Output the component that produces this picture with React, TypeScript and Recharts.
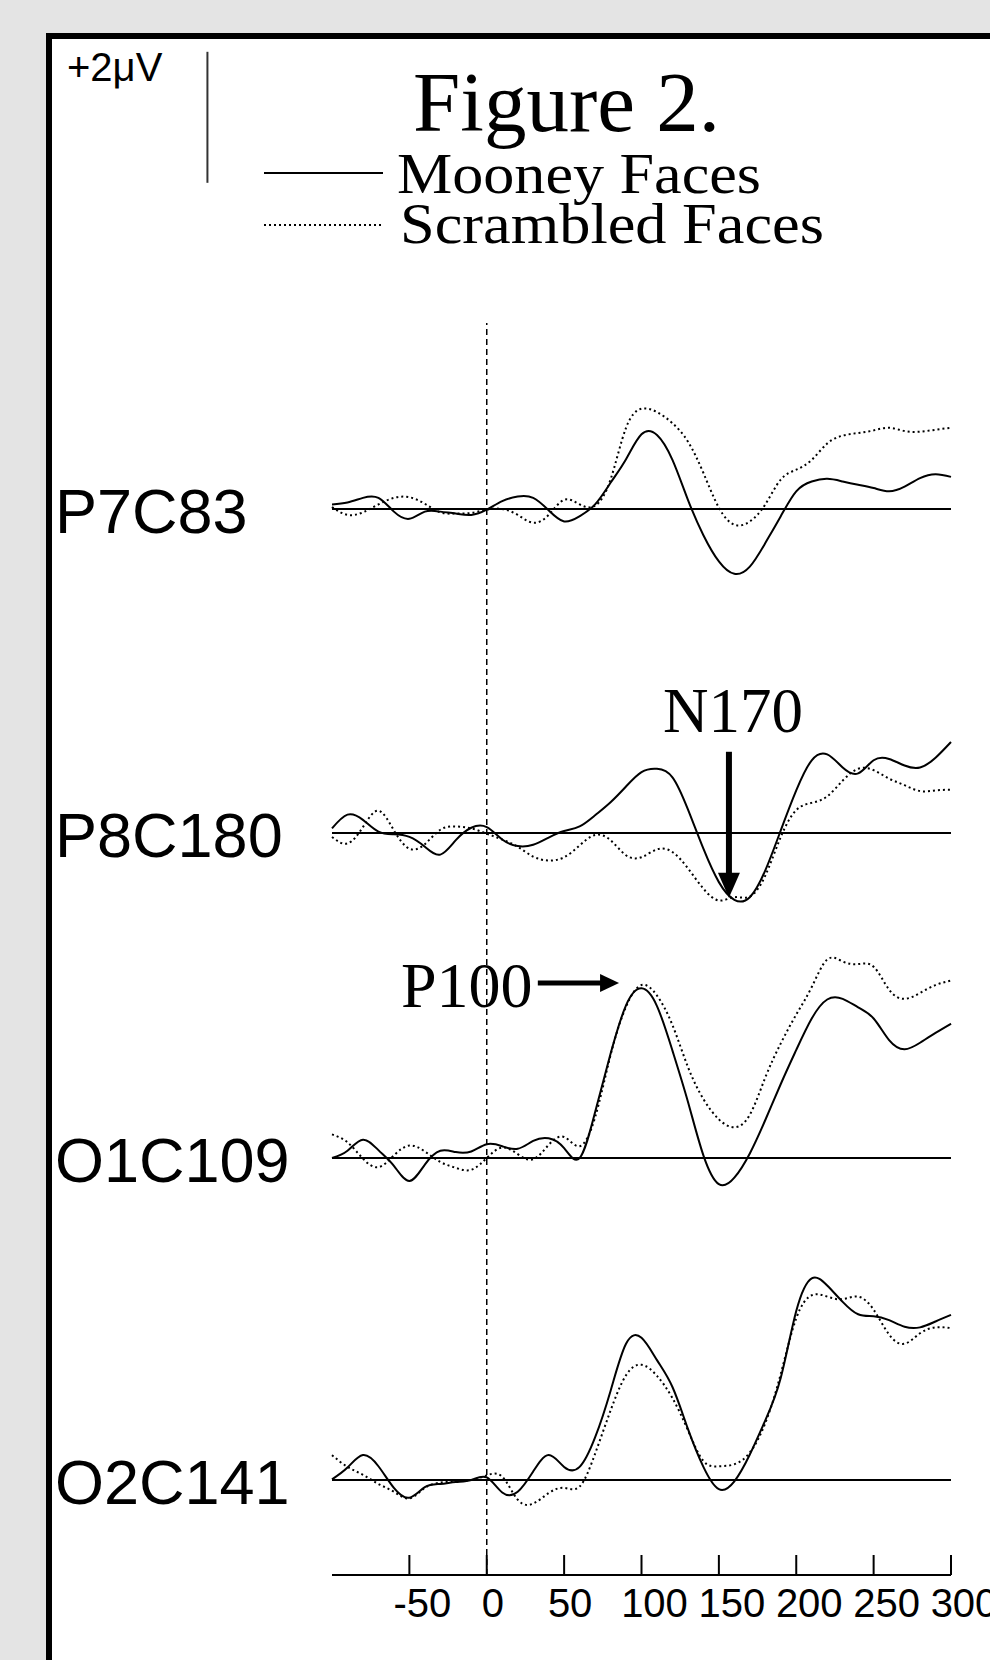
import React from "react";
import { LineChart, Line, XAxis, YAxis, ReferenceLine } from "recharts";

// ---------- data (μV) ----------
const TIMES = [-100, -90, -80, -70, -60, -50, -40, -30, -20, -10, 0, 10, 20, 30, 40, 50, 60, 70, 80, 90, 100, 110, 120, 130, 140, 150, 160, 170, 180, 190, 200, 210, 220, 230, 240, 250, 260, 270, 280, 290, 300];

const P7_MOONEY = [0.07, 0.10, 0.17, 0.17, -0.04, -0.15, -0.04, -0.04, -0.07, -0.09, -0.01, 0.12, 0.19, 0.17, -0.02, -0.19, -0.11, 0.07, 0.40, 0.76, 1.14, 1.13, 0.75, 0.14, -0.40, -0.80, -0.99, -0.88, -0.52, -0.11, 0.27, 0.42, 0.46, 0.42, 0.37, 0.32, 0.27, 0.34, 0.47, 0.53, 0.49];
const P7_SCRAMBLED = [0.03, -0.09, -0.05, 0.07, 0.17, 0.18, 0.08, -0.05, -0.07, -0.06, -0.01, 0.0, -0.09, -0.21, -0.09, 0.14, 0.07, 0.05, 0.45, 1.24, 1.53, 1.48, 1.31, 1.03, 0.55, 0.02, -0.24, -0.19, 0.07, 0.45, 0.60, 0.75, 1.0, 1.12, 1.16, 1.20, 1.24, 1.19, 1.18, 1.21, 1.24];

const P8_MOONEY = [0.07, 0.28, 0.20, 0.02, -0.02, -0.06, -0.21, -0.33, -0.11, 0.08, 0.09, -0.10, -0.20, -0.18, -0.07, 0.03, 0.10, 0.27, 0.47, 0.71, 0.93, 0.98, 0.85, 0.36, -0.24, -0.75, -1.02, -0.98, -0.57, 0.04, 0.65, 1.11, 1.20, 1.00, 0.91, 1.11, 1.13, 1.03, 1.00, 1.15, 1.39];
const P8_SCRAMBLED = [-0.06, -0.16, 0.09, 0.34, 0.04, -0.24, -0.17, 0.05, 0.10, 0.07, -0.01, -0.10, -0.21, -0.36, -0.42, -0.37, -0.19, -0.03, -0.11, -0.34, -0.37, -0.25, -0.29, -0.54, -0.85, -1.03, -0.98, -0.97, -0.65, -0.06, 0.35, 0.46, 0.56, 0.80, 0.98, 0.96, 0.83, 0.73, 0.64, 0.65, 0.66];

const O1_MOONEY = [0.0, 0.11, 0.28, 0.12, -0.12, -0.35, -0.10, 0.11, 0.09, 0.10, 0.21, 0.18, 0.14, 0.26, 0.30, 0.15, 0.0, 0.70, 1.59, 2.33, 2.59, 2.32, 1.64, 0.86, 0.04, -0.40, -0.30, 0.07, 0.58, 1.13, 1.65, 2.13, 2.42, 2.43, 2.30, 2.13, 1.80, 1.66, 1.76, 1.91, 2.05];
const O1_SCRAMBLED = [0.36, 0.24, -0.01, -0.14, 0.04, 0.19, 0.10, -0.06, -0.15, -0.18, 0.0, 0.16, 0.06, -0.02, 0.20, 0.32, 0.18, 0.62, 1.57, 2.31, 2.64, 2.48, 2.03, 1.39, 0.90, 0.59, 0.47, 0.66, 1.23, 1.75, 2.19, 2.61, 3.03, 3.0, 2.96, 2.92, 2.57, 2.43, 2.52, 2.64, 2.71];

const O2_MOONEY = [0.01, 0.19, 0.38, 0.21, -0.12, -0.27, -0.11, -0.06, -0.03, 0.0, 0.04, -0.19, -0.18, 0.13, 0.38, 0.20, 0.20, 0.65, 1.36, 2.08, 2.17, 1.83, 1.42, 0.78, 0.20, -0.14, -0.02, 0.39, 0.91, 1.56, 2.58, 3.08, 2.97, 2.72, 2.53, 2.50, 2.44, 2.34, 2.33, 2.42, 2.52];
const O2_SCRAMBLED = [0.38, 0.20, 0.08, -0.06, -0.18, -0.28, -0.12, -0.04, -0.02, 0.0, 0.07, 0.05, -0.30, -0.36, -0.20, -0.12, -0.10, 0.40, 1.06, 1.60, 1.76, 1.59, 1.25, 0.76, 0.29, 0.21, 0.24, 0.42, 0.87, 1.62, 2.47, 2.82, 2.80, 2.76, 2.80, 2.60, 2.22, 2.08, 2.24, 2.33, 2.32];

const CHANNELS = ["P7C83", "P8C180", "O1C109", "O2C141"];
const MOONEY = [P7_MOONEY, P8_MOONEY, O1_MOONEY, O2_MOONEY];
const SCRAMBLED = [P7_SCRAMBLED, P8_SCRAMBLED, O1_SCRAMBLED, O2_SCRAMBLED];
const X_TICKS = [-50, 0, 50, 100, 150, 200, 250, 300];
const X_DOMAIN = [-100, 300];
const LEGEND = ["Mooney Faces", "Scrambled Faces"];
const TITLE = "Figure 2.";
const SCALE_LABEL = "+2μV";
const SCALE_UV = 2;
const N170_LABEL = "N170";
const P100_LABEL = "P100";
// annotation anchors (ms, μV)
const N170_ARROW = { t: 156.5, from: 1.24, to: -0.99 };
const P100_ARROW = { from: 33, to: 85.5, v: 2.67 };
const SCALE_BAR = { t: -180.5, top: 6.98 };

// ---------- layout ----------
const W = 990;
const H = 1660;
const PLOT_LEFT = 332;
const PLOT_RIGHT = 951;
const PLOT_TOP = 323;
const PLOT_BOTTOM = 1575;
const X_AXIS_H = 60;
const PX_PER_UV = 65.5;
const ZERO_Y = [509, 833, 1158, 1480];
const SANS = "'Liberation Sans', Arial, sans-serif";
const SERIF = "'Liberation Serif', 'Times New Roman', serif";

const data = TIMES.map((t, i) => {
  const row: Record<string, number> = { t };
  CHANNELS.forEach((_, c) => {
    row[`m${c}`] = MOONEY[c][i];
    row[`s${c}`] = SCRAMBLED[c][i];
  });
  return row;
});

function domainFor(y0: number): [number, number] {
  const max = (y0 - PLOT_TOP) / PX_PER_UV;
  const span = (PLOT_BOTTOM - PLOT_TOP) / PX_PER_UV;
  return [max - span, max];
}

const renderTick = (props: any) => {
  const { x, payload } = props;
  const label = String(payload.value);
  const dx = label.length >= 3 ? 13 : 6;
  return (
    <g>
      <line x1={x} x2={x} y1={PLOT_BOTTOM - 20} y2={PLOT_BOTTOM} stroke="#000" strokeWidth={2} />
      <text x={x + dx} y={1617} textAnchor="middle" fontFamily={SANS} fontSize={40} fill="#000">
        {label}
      </text>
    </g>
  );
};

const DownArrow = (p: any) => {
  const { x1, y1, x2, y2 } = p;
  return (
    <g>
      <line x1={x1} y1={y1} x2={x2} y2={y2 - 22} stroke="#000" strokeWidth={6} />
      <polygon points={`${x2 - 11},${y2 - 25} ${x2 + 11},${y2 - 25} ${x2},${y2}`} fill="#000" />
    </g>
  );
};

const RightArrow = (p: any) => {
  const { x1, y1, x2, y2 } = p;
  return (
    <g>
      <line x1={x1} y1={y1} x2={x2 - 16} y2={y2} stroke="#000" strokeWidth={5} />
      <polygon points={`${x2 - 19},${y2 - 9} ${x2 - 19},${y2 + 9} ${x2},${y2}`} fill="#000" />
    </g>
  );
};

export default function App() {
  return (
    <div
      style={{
        position: "absolute",
        left: 0,
        top: 0,
        width: W,
        height: H,
        background: "#e4e4e4",
        overflow: "hidden",
      }}
    >
      <div
        style={{
          position: "absolute",
          left: 46,
          top: 33,
          width: W,
          height: H,
          border: "6px solid #000",
          background: "#fff",
          boxSizing: "border-box",
        }}
      />
      <div style={{ position: "absolute", left: 0, top: 0 }}>
        <LineChart
          width={W}
          height={H}
          data={data}
          margin={{ top: PLOT_TOP, right: W - PLOT_RIGHT, bottom: H - PLOT_BOTTOM - X_AXIS_H, left: PLOT_LEFT }}
        >
          <XAxis
            dataKey="t"
            type="number"
            scale="linear"
            domain={X_DOMAIN}
            ticks={X_TICKS}
            interval={0}
            height={X_AXIS_H}
            axisLine={{ stroke: "#000", strokeWidth: 2 }}
            tickLine={false}
            tick={renderTick}
          />
          {CHANNELS.map((ch, c) => (
            <YAxis
              key={ch}
              yAxisId={`ch${c}`}
              type="number"
              scale="linear"
              domain={domainFor(ZERO_Y[c])}
              allowDataOverflow
              hide
            />
          ))}
          {CHANNELS.map((ch, c) => (
            <ReferenceLine key={`z${ch}`} yAxisId={`ch${c}`} y={0} stroke="#000" strokeWidth={2} />
          ))}
          <ReferenceLine yAxisId="ch0" x={0} stroke="#000" strokeWidth={1.5} strokeDasharray="6 4" />
          <ReferenceLine
            yAxisId="ch0"
            ifOverflow="visible"
            segment={[
              { x: SCALE_BAR.t, y: SCALE_BAR.top },
              { x: SCALE_BAR.t, y: SCALE_BAR.top - SCALE_UV },
            ]}
            stroke="#333"
            strokeWidth={2}
          />
          <ReferenceLine
            yAxisId="ch1"
            ifOverflow="visible"
            segment={[
              { x: N170_ARROW.t, y: N170_ARROW.from },
              { x: N170_ARROW.t, y: N170_ARROW.to },
            ]}
            shape={DownArrow}
          />
          <ReferenceLine
            yAxisId="ch2"
            ifOverflow="visible"
            segment={[
              { x: P100_ARROW.from, y: P100_ARROW.v },
              { x: P100_ARROW.to, y: P100_ARROW.v },
            ]}
            shape={RightArrow}
          />
          {CHANNELS.map((ch, c) => (
            <Line
              key={`s${ch}`}
              yAxisId={`ch${c}`}
              dataKey={`s${c}`}
              type="natural"
              stroke="#000"
              strokeWidth={2}
              strokeDasharray="2 3"
              dot={false}
              activeDot={false}
              isAnimationActive={false}
            />
          ))}
          {CHANNELS.map((ch, c) => (
            <Line
              key={`m${ch}`}
              yAxisId={`ch${c}`}
              dataKey={`m${c}`}
              type="natural"
              stroke="#000"
              strokeWidth={2}
              dot={false}
              activeDot={false}
              isAnimationActive={false}
            />
          ))}
        </LineChart>
      </div>
      <svg
        width={W}
        height={H}
        style={{ position: "absolute", left: 0, top: 0, pointerEvents: "none" }}
      >
        <text x={67} y={81} fontFamily={SANS} fontSize={40} fill="#000">
          {SCALE_LABEL}
        </text>
        <text x={413} y={131} fontFamily={SERIF} fontSize={84} fill="#000" textLength={307} lengthAdjust="spacingAndGlyphs">
          {TITLE}
        </text>
        <line x1={264} x2={383} y1={173} y2={173} stroke="#000" strokeWidth={2} />
        <line x1={264} x2={383} y1={225} y2={225} stroke="#000" strokeWidth={2} strokeDasharray="2 3" />
        <text x={397} y={193} fontFamily={SERIF} fontSize={58} fill="#000" textLength={364} lengthAdjust="spacingAndGlyphs">
          {LEGEND[0]}
        </text>
        <text x={400} y={243} fontFamily={SERIF} fontSize={58} fill="#000" textLength={424} lengthAdjust="spacingAndGlyphs">
          {LEGEND[1]}
        </text>
        {CHANNELS.map((ch, c) => (
          <text key={ch} x={55} y={ZERO_Y[c] + 24} fontFamily={SANS} fontSize={63} fill="#000">
            {ch}
          </text>
        ))}
        <text x={663} y={732} fontFamily={SERIF} fontSize={63} fill="#000">
          {N170_LABEL}
        </text>
        <text x={401} y={1007} fontFamily={SERIF} fontSize={64} fill="#000">
          {P100_LABEL}
        </text>
      </svg>
    </div>
  );
}
